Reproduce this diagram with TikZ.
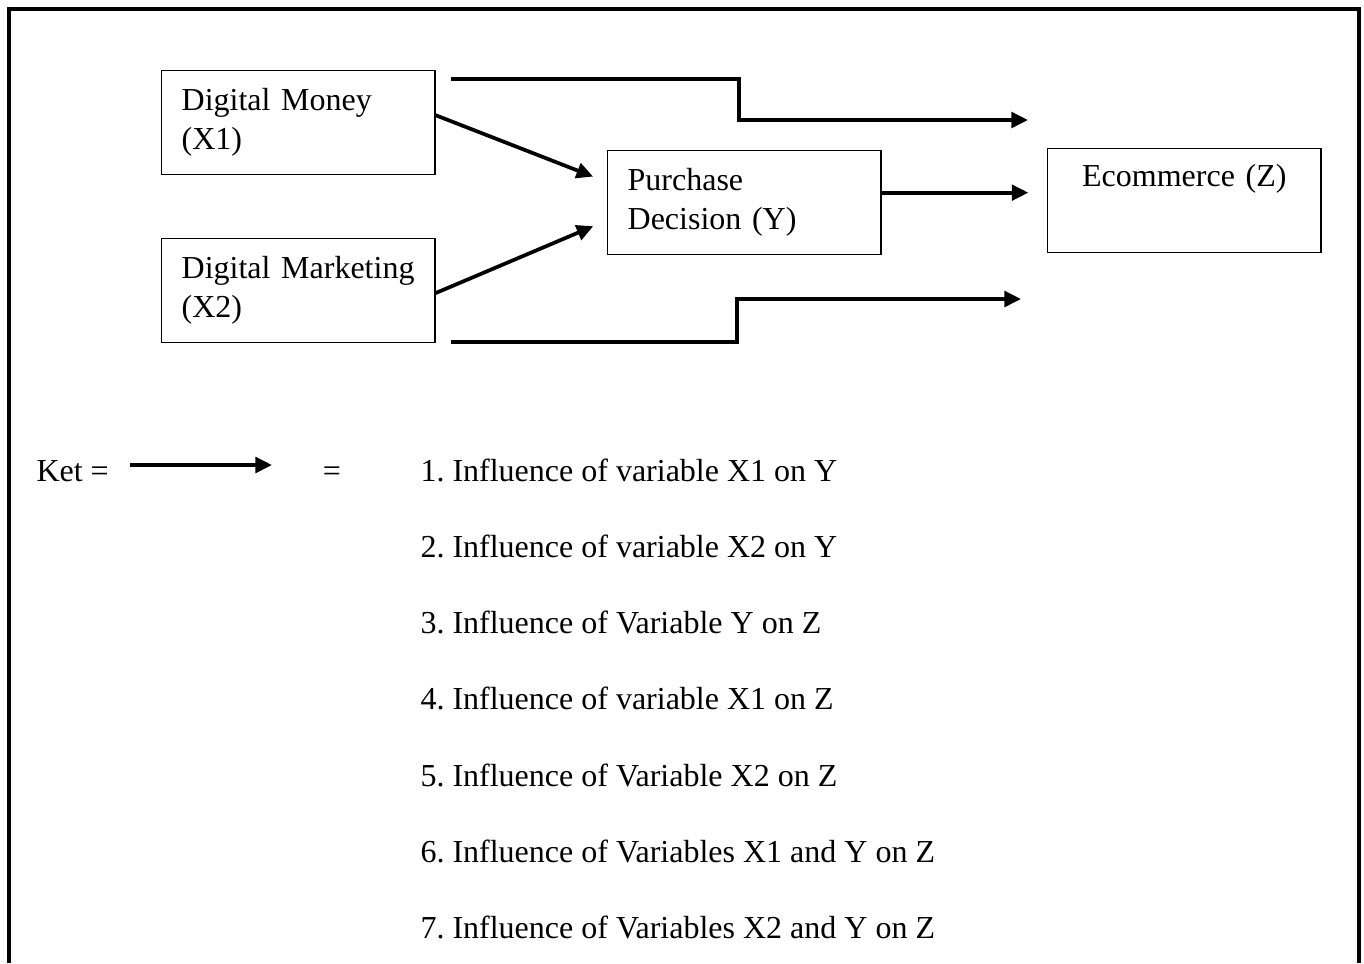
\documentclass[tikz,border=0pt]{standalone}
\usepackage{fontspec}
\setmainfont{Liberation Serif}
\usepackage{tikz}
\usetikzlibrary{arrows.meta}
\frenchspacing

\tikzset{
  box/.style={draw, line width=0.5pt, anchor=north west, inner xsep=7.5pt,
    text width=87.5pt, minimum height=39pt},
  flow/.style={line width=1.4pt, -{Triangle[length=6.2pt,width=5.8pt]}},
  legtext/.style={anchor=base west, inner sep=0pt}
}

\begin{document}
\begin{tikzpicture}[x=0.375pt, y=-0.375pt, font=\fontsize{12}{14.6}\selectfont]
        \useasboundingbox (0,0) rectangle (1364,963);
        % frame, open at the bottom
        \draw[line width=1.5pt] (9.3,963) -- (9.3,9.3) -- (1358.5,9.3) -- (1358.5,963);

        % variables
        \node[box, align=left] (xmoney) at (161,70) {Digital Money\\(X1)};
        \node[box, align=left] (xmarket) at (161,238) {Digital Marketing\\(X2)};
        \node[box, align=left] (ydec) at (607,150) {Purchase\\Decision (Y)};
        \node[box, align=center] (zecom) at (1047,148) {Ecommerce (Z)\\\strut};

        % influences
        \draw[flow, shorten >=5.6pt] ([yshift=2.8pt]xmoney.east) -- ([yshift=-12pt]ydec.north west);
        \draw[flow, shorten >=5.6pt] ([yshift=-0.9pt]xmarket.east) -- ([yshift=13.1pt]ydec.south west);
        \draw[flow, shorten >=7pt] ([yshift=3.75pt]ydec.east) -- ([yshift=3.75pt]ydec.east -| zecom.west);

        \coordinate (topstart) at (451,79);
        \coordinate (topend) at (1028,120);
        \draw[flow] (topstart) -| (739,120) -- (topend);
        \coordinate (botstart) at (451,342);
        \coordinate (botend) at (1021,299);
        \draw[flow] (botstart) -| (737,299) -- (botend);

        % legend
        \node[legtext] (ket) at (36,481) {Ket =};
        \coordinate (ketstart) at (130,465);
        \coordinate (ketend) at (272,465);
        \draw[flow] (ketstart) -- (ketend);
        \node[anchor=base, inner sep=0pt] (eq) at (332,481) {=};
        \foreach \i/\t in {0/{1. Influence of variable X1 on Y},
                           1/{2. Influence of variable X2 on Y},
                           2/{3. Influence of Variable Y on Z},
                           3/{4. Influence of variable X1 on Z},
                           4/{5. Influence of Variable X2 on Z},
                           5/{6. Influence of Variables X1 and Y on Z},
                           6/{7. Influence of Variables X2 and Y on Z}}
            \node[legtext] (item\i) at (420,481+76.3*\i) {\t};
    \end{tikzpicture}
\end{document}
